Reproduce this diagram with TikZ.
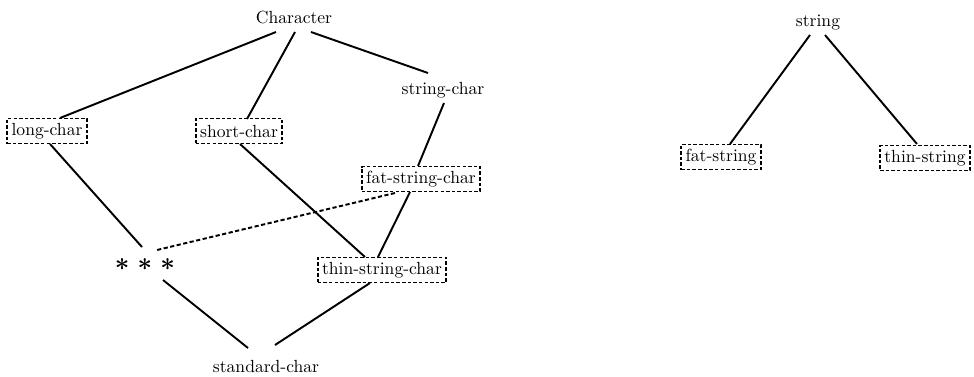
\documentclass[tikz,border=0pt]{standalone}
\usepackage{tikz}
\usetikzlibrary{calc}

\begin{document}
\begin{tikzpicture}[
    x=0.02cm, y=-0.02cm,
    every node/.style={inner sep=0pt,font=\normalsize},
    typebox/.style={draw,line width=1.1pt,dash pattern=on 2pt off 1.2pt,minimum height=0.5cm,inner xsep=2.5pt},
    link/.style={line width=1.1pt},
    weak/.style={line width=1.1pt,dash pattern=on 2.4pt off 1.4pt}
  ]
    \useasboundingbox (0,0) rectangle (974,376);
    % left lattice
    \node (chr)  at (294,17)  {Character};
    \node (strc) at (443,90)  {string-char};
    \node (lc)   at (47,131)  [typebox] {long-char};
    \node (sc)   at (239,131) [typebox] {short-char};
    \node (fsc)  at (421,179) [typebox] {fat-string-char};
    \node (ast)  at (145,265) [font=\Large\boldmath] {$\ast\hskip1pt\ast\hskip1pt\ast$};
    \node (tsc)  at (382,270) [typebox] {thin-string-char};
    \node (stdc) at (266,366) {standard-char};
    % right tree
    \node (str)  at (818,23)  {string};
    \node (fs)   at (721,157) [typebox] {fat-string};
    \node (ts)   at (925,158) [typebox] {thin-string};

    \draw[link] ($(chr)+(-18,15)$) -- ($(lc)+(13,-13)$);
    \draw[link] ($(chr)+(1,15)$)   -- ($(sc)+(8,-12)$);
    \draw[link] ($(chr)+(17,15)$)  -- ($(strc)+(-15,-17)$);
    \draw[link] ($(strc)+(1,13)$)  -- ($(fsc)+(-3,-13)$);
    \draw[link] ($(lc)+(3,13)$)    -- ($(ast)+(-3,-18)$);
    \draw[link] ($(sc)+(1,13)$)    -- ($(tsc)+(-17,-13)$);
    \draw[link] ($(fsc)+(-11,13)$) -- ($(tsc)+(-4,-13)$);
    \draw[weak] ($(fsc)+(-26,14)$) -- ($(ast)+(12,-15)$);
    \draw[link] ($(ast)+(18,15)$)  -- ($(stdc)+(-18,-18)$);
    \draw[link] ($(tsc)+(-12,13)$) -- ($(stdc)+(9,-21)$);
    \draw[link] ($(str)+(-8,12)$)  -- ($(fs)+(9,-13)$);
    \draw[link] ($(str)+(7,12)$)   -- ($(ts)+(-8,-14)$);
  \end{tikzpicture}
\end{document}
